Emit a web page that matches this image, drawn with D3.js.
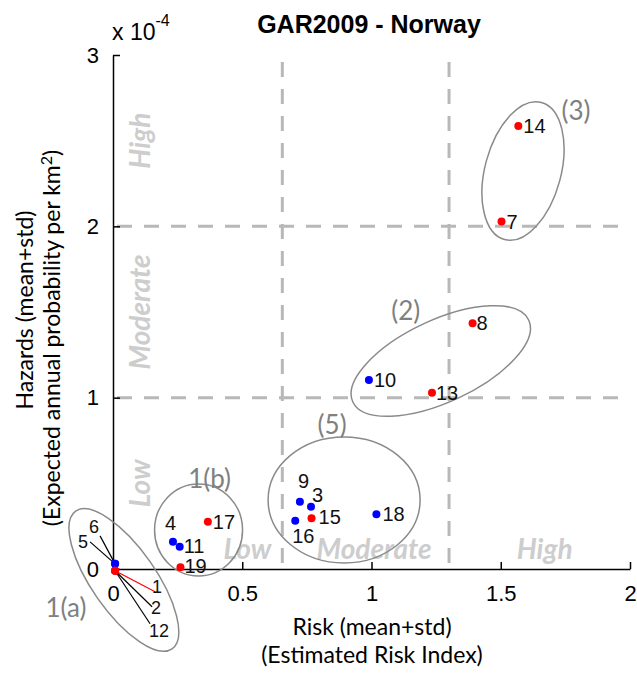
<!DOCTYPE html>
<html>
<head>
<meta charset="utf-8">
<script src="https://cdn.jsdelivr.net/npm/d3@7"></script>
<style>
body { margin: 0; background: #fff; }
svg { font-family: "Liberation Sans", Arial, sans-serif; }
.axis path, .axis line { stroke: #000; stroke-width: 1.5; }
.axis text { font-size: 22px; fill: #000; font-family: "Liberation Sans", Arial, sans-serif; }
.thresh { stroke: #b8b8b8; stroke-width: 3; stroke-dasharray: 15,12; fill: none; }
.zone { fill: #cdcdcd; font-family: Lato, sans-serif; font-weight: bold; font-style: italic; font-size: 28px; }
.cluster { fill: none; stroke: #8a8a8a; stroke-width: 1.5; }
.cluster-label { fill: #808080; font-family: Lato, sans-serif; font-size: 26px; }
.plabel { font-size: 20px; fill: #111; }
.title { font-size: 25px; font-weight: bold; }
.alabel { font-family: Lato, sans-serif; font-size: 23px; }
</style>
</head>
<body>
<div class="container"></div>
<script>
const WIDTH = 637,
    HEIGHT = 677;

// data (risk in index units, hazard in 1e-4 per km2)
const pointIds = ['5', '6', '1', '2', '12', '4', '11', '19', '17', '9', '3', '15', '16', '18', '10', '13', '8', '7', '14'];
const pointGroup = ['b', 'b', 'r', 'r', 'r', 'b', 'b', 'r', 'r', 'b', 'b', 'r', 'b', 'b', 'b', 'r', 'r', 'r', 'r'];
const riskValues = [0.008, 0.008, 0.008, 0.008, 0.008, 0.232, 0.258, 0.261, 0.367, 0.723, 0.766, 0.768, 0.705, 1.019, 0.990, 1.234, 1.391, 1.503, 1.568];
const hazardValues = [0.03, 0.03, -0.01, -0.01, -0.01, 0.159, 0.130, 0.01, 0.276, 0.393, 0.364, 0.296, 0.282, 0.319, 1.103, 1.029, 1.434, 2.028, 2.586];

const clusterNames = ['1(a)', '1(b)', '(5)', '(2)', '(3)'];
const clusterRisk = [0.042, 0.331, 0.894, 1.268, 1.586];
const clusterHazard = [-0.064, 0.228, 0.403, 1.214, 2.323];

const riskThresholds = [0.655, 1.3];
const hazardThresholds = [1, 2];
const zoneNames = ['Low', 'Moderate', 'High'];

const xTicks = [0, 0.5, 1, 1.5, 2];
const yTicks = [0, 1, 2, 3];

// layout
const labelOffset = {
    '4': [-8, -12, 'start'], '11': [4, 6], '19': [4, 6], '17': [5, 7],
    '9': [-2, -14, 'middle'], '3': [1, -5], '15': [7, 6], '16': [-3, 22],
    '18': [6, 7], '10': [5, 7], '13': [4, 7], '8': [4, 7], '7': [5, 7], '14': [5, 7]
};
const leaders = {
    '6': { end: [-15, -28], text: [-19, -42], color: '#000' },
    '5': { end: [-25, -22], text: [-30, -27], color: '#000' },
    '1': { end: [40, 21], text: [44, 18], color: '#f00' },
    '2': { end: [37, 36], text: [43, 39], color: '#000' },
    '12': { end: [35, 53], text: [46, 62], color: '#000' }
};
const clusterShape = {
    '1(a)': { rx: 84, ry: 32, rot: 55, label: [-58, 27] },
    '1(b)': { rx: 44, ry: 46, rot: 0, label: [11, -52] },
    '(5)': { rx: 76, ry: 63, rot: 0, label: [-12, -76] },
    '(2)': { rx: 97, ry: 41, rot: -25, label: [-35, -51] },
    '(3)': { rx: 38, ry: 71, rot: 15, label: [53, -61] }
};
const riskZonePos = [0.52, 1.01, 1.67];
const hazardZonePos = [0.5, 1.5, 2.5];

var translate = (x, y) => "translate(" + x + "," + y + ")";

var svg = d3.select('.container').append('svg')
    .attr('width', WIDTH)
    .attr('height', HEIGHT);

var xScale = d3.scaleLinear().domain([0, 2]).range([113, 630]);
var yScale = d3.scaleLinear().domain([0, 3]).range([569, 55]);
var color = d3.scaleOrdinal().domain(['r', 'b']).range(['#ff0000', '#0000ff']);

var points = pointIds.map((id, i) => ({
    id: id,
    g: pointGroup[i],
    x: riskValues[i],
    y: hazardValues[i]
}));

// threshold grid
svg.append('g').selectAll('line.v')
    .data(riskThresholds)
    .enter().append('line')
    .attr('class', 'thresh')
    .attr('x1', d => xScale(d)).attr('x2', d => xScale(d))
    .attr('y1', yScale(3)).attr('y2', yScale(0))
    .style('stroke-dashoffset', 20);

svg.append('g').selectAll('line.h')
    .data(hazardThresholds)
    .enter().append('line')
    .attr('class', 'thresh')
    .attr('x1', xScale(0)).attr('x2', xScale(2))
    .attr('y1', d => yScale(d)).attr('y2', d => yScale(d))
    .style('stroke-dashoffset', 23);

// zone labels
svg.append('g').selectAll('text')
    .data(zoneNames)
    .enter().append('text')
    .attr('class', 'zone')
    .attr('text-anchor', 'middle')
    .attr('dominant-baseline', 'central')
    .attr('x', (d, i) => xScale(riskZonePos[i]))
    .attr('y', yScale(0.12))
    .text(d => d);

svg.append('g').selectAll('text')
    .data(zoneNames)
    .enter().append('text')
    .attr('class', 'zone')
    .attr('text-anchor', 'middle')
    .attr('dominant-baseline', 'central')
    .attr('transform', (d, i) => translate(xScale(0.1), yScale(hazardZonePos[i])) + " rotate(-90)")
    .text(d => d);

// axes
var xAxis = d3.axisBottom(xScale).tickValues(xTicks).tickSizeInner(-7).tickSizeOuter(0).tickPadding(16).tickFormat(d3.format('~g'));
var yAxis = d3.axisLeft(yScale).tickValues(yTicks).tickSizeInner(-7).tickSizeOuter(0).tickPadding(14).tickFormat(d3.format('d'));

svg.append('g')
    .attr('class', 'axis')
    .attr('transform', translate(0, yScale(0)))
    .call(xAxis);

svg.append('g')
    .attr('class', 'axis')
    .attr('transform', translate(xScale(0), 0))
    .call(yAxis);

// cluster ellipses
var clusters = svg.append('g').selectAll('g')
    .data(clusterNames)
    .enter().append('g')
    .attr('transform', (d, i) => translate(xScale(clusterRisk[i]), yScale(clusterHazard[i])));

clusters.append('ellipse')
    .attr('class', 'cluster')
    .attr('rx', d => clusterShape[d].rx)
    .attr('ry', d => clusterShape[d].ry)
    .attr('transform', d => "rotate(" + clusterShape[d].rot + ")");

clusters.append('text')
    .attr('class', 'cluster-label')
    .attr('text-anchor', 'middle')
    .attr('dominant-baseline', 'central')
    .attr('x', d => clusterShape[d].label[0])
    .attr('y', d => clusterShape[d].label[1])
    .text(d => d);

// leader lines for stacked points at the origin
var leaderPts = points.filter(d => leaders[d.id]);
svg.append('g').selectAll('line')
    .data(leaderPts)
    .enter().append('line')
    .attr('x1', d => xScale(d.x)).attr('y1', d => yScale(d.y))
    .attr('x2', d => xScale(d.x) + leaders[d.id].end[0])
    .attr('y2', d => yScale(d.y) + leaders[d.id].end[1])
    .attr('stroke', d => leaders[d.id].color)
    .attr('stroke-width', 1.2);

svg.append('g').selectAll('text')
    .data(leaderPts)
    .enter().append('text')
    .attr('class', 'plabel')
    .attr('text-anchor', 'middle')
    .attr('dominant-baseline', 'central')
    .style('font-size', '18px')
    .attr('x', d => xScale(0) + leaders[d.id].text[0])
    .attr('y', d => yScale(0) + leaders[d.id].text[1])
    .text(d => d.id);

// points
svg.append('g').selectAll('circle')
    .data(points)
    .enter().append('circle')
    .attr('cx', d => xScale(d.x))
    .attr('cy', d => yScale(d.y))
    .attr('r', 4)
    .attr('fill', d => color(d.g));

svg.append('g').selectAll('text')
    .data(points.filter(d => labelOffset[d.id]))
    .enter().append('text')
    .attr('class', 'plabel')
    .attr('x', d => xScale(d.x) + labelOffset[d.id][0])
    .attr('y', d => yScale(d.y) + labelOffset[d.id][1])
    .text(d => d.id);

// titles
svg.append('text')
    .attr('class', 'title')
    .attr('text-anchor', 'middle')
    .attr('x', 369)
    .attr('y', 33)
    .text('GAR2009 - Norway');

var mult = svg.append('text')
    .attr('x', 112)
    .attr('y', 40)
    .style('font-size', '23px');
mult.append('tspan').text('x 10');
mult.append('tspan').attr('dy', -14).style('font-size', '16px').text('-4');

svg.append('text')
    .attr('class', 'alabel')
    .attr('text-anchor', 'middle')
    .attr('x', 372)
    .attr('y', 635)
    .text('Risk (mean+std)');

svg.append('text')
    .attr('class', 'alabel')
    .attr('text-anchor', 'middle')
    .attr('x', 372)
    .attr('y', 663)
    .text('(Estimated Risk Index)');

svg.append('text')
    .attr('class', 'alabel')
    .attr('text-anchor', 'middle')
    .attr('transform', translate(33, 310) + " rotate(-90)")
    .text('Hazards (mean+std)');

var yl2 = svg.append('text')
    .attr('class', 'alabel')
    .attr('text-anchor', 'middle')
    .attr('transform', translate(60, 338) + " rotate(-90)");
yl2.append('tspan').text('(Expected annual probability per km');
yl2.append('tspan').attr('dy', -8).style('font-size', '16px').text('2');
yl2.append('tspan').attr('dy', 8).text(')');
</script>
</body>
</html>
